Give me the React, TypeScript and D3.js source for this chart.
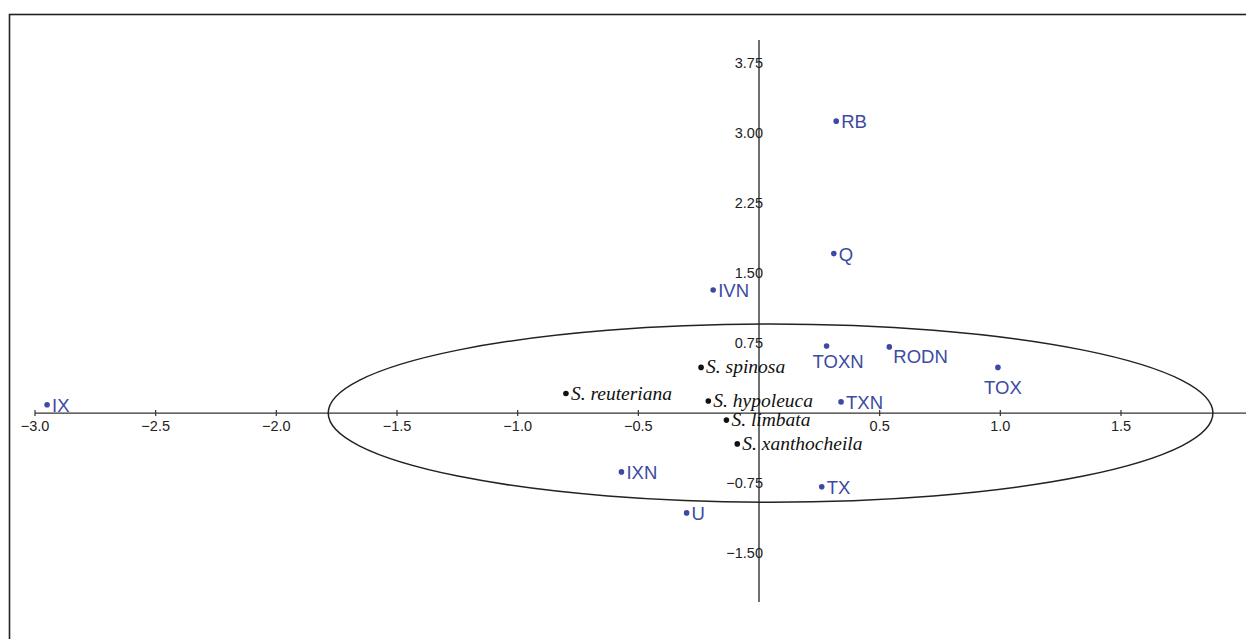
import React from 'react';
import * as d3 from 'd3';

// variable points (blue) and species (black), PCA scores
const varNames = ['IX', 'RB', 'Q', 'IVN', 'TOXN', 'RODN', 'TOX', 'TXN', 'TX', 'IXN', 'U'];
const varX = [-2.95, 0.32, 0.31, -0.19, 0.28, 0.54, 0.99, 0.34, 0.26, -0.57, -0.30];
const varY = [0.09, 3.13, 1.71, 1.32, 0.72, 0.71, 0.49, 0.12, -0.79, -0.63, -1.07];

const spNames = ['S. spinosa', 'S. reuteriana', 'S. hypoleuca', 'S. limbata', 'S. xanthocheila'];
const spX = [-0.24, -0.80, -0.21, -0.135, -0.09];
const spY = [0.49, 0.21, 0.13, -0.075, -0.33];

const xTicks = [-3.0, -2.5, -2.0, -1.5, -1.0, -0.5, 0.5, 1.0, 1.5];
const yTicks = [3.75, 3.0, 2.25, 1.5, 0.75, -0.75, -1.5];

// confidence ellipse: centre and semi-axes in data units
const ellipse = { cx: 0.048, cy: 0.0, rx: 1.833, ry: 0.955 };

// label placement relative to the dot (px)
const labelPos: Record<string, [number, number, string]> = {
  TOXN: [-14, 22, 'start'],
  TOX: [5, 27, 'middle'],
  RODN: [4, 16, 'start'],
};

const W = 1246;
const H = 639;

const App = () => {
  const x = d3.scaleLinear().domain([-3, 1.5]).range([35, 1121]);
  const y = d3.scaleLinear().domain([-2.025, 4.0]).range([602, 40]);

  const blue = '#3d4aa3';
  const sans = '"Liberation Sans", Arial, sans-serif';
  const serif = '"Liberation Serif", "Times New Roman", serif';

  const ecx = x(ellipse.cx);
  const ecy = y(ellipse.cy);
  const erx = x(ellipse.rx) - x(0);
  const ery = y(0) - y(ellipse.ry);

  return (
    <div style={{ position: 'absolute', left: 0, top: 0 }}>
      <svg width={W} height={H} style={{ display: 'block', background: '#fff' }}>
        {/* frame, only top and left edges fall inside the picture */}
        <rect x={9.5} y={14.5} width={W + 20} height={H + 20} fill="none" stroke="#222" strokeWidth={1.6} />

        {/* axes */}
        <line x1={x(-3)} x2={W} y1={y(0)} y2={y(0)} stroke="#333" strokeWidth={1.4} />
        <line x1={x(0)} x2={x(0)} y1={y(4.0)} y2={y(-2.025)} stroke="#333" strokeWidth={1.4} />

        {xTicks.map(t => (
          <g key={t} transform={`translate(${x(t)},${y(0)})`}>
            <line y1={-3} y2={3} stroke="#333" strokeWidth={1.2} />
            <text y={18} textAnchor="middle" fontFamily={sans} fontSize={14.5} fill="#222">
              {d3.format('.1f')(t)}
            </text>
          </g>
        ))}
        {yTicks.map(t => (
          <text key={t} x={x(0) + 4} y={y(t) + 5} textAnchor="end" fontFamily={sans} fontSize={14.5} fill="#222">
            {d3.format('.2f')(t)}
          </text>
        ))}

        <ellipse cx={ecx} cy={ecy} rx={erx} ry={ery} fill="none" stroke="#222" strokeWidth={1.5} />

        {/* species */}
        {spNames.map((n, i) => (
          <g key={n} transform={`translate(${x(spX[i])},${y(spY[i])})`}>
            <circle r={2.8} fill="#111" />
            <text x={5} y={6} fontFamily={serif} fontStyle="italic" fontSize={19.5} fill="#111">{n}</text>
          </g>
        ))}

        {/* variables */}
        {varNames.map((n, i) => {
          const [dx, dy, anchor] = labelPos[n] || [5, 7, 'start'];
          return (
            <g key={n} transform={`translate(${x(varX[i])},${y(varY[i])})`}>
              <circle r={2.8} fill={blue} />
              <text x={dx} y={dy} textAnchor={anchor} fontFamily={sans} fontSize={18.5} fill={blue}>{n}</text>
            </g>
          );
        })}
      </svg>
    </div>
  );
};

export default App;
